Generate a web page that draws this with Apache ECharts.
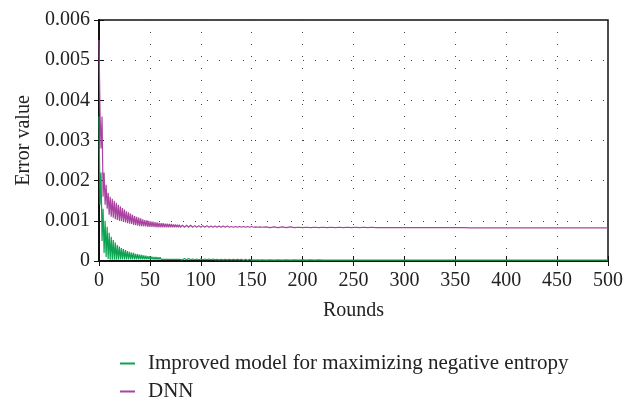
<!DOCTYPE html>
<html>
<head>
<meta charset="utf-8">
<script src="https://cdn.jsdelivr.net/npm/echarts@6/dist/echarts.min.js"></script>
<style>html,body{margin:0;padding:0;background:#fff}#c{width:634px;height:403px}</style>
</head>
<body>
<div id="c"></div>
<script>
const seriesNames = ['Improved model for maximizing negative entropy', 'DNN'];
const xTicks = [0, 50, 100, 150, 200, 250, 300, 350, 400, 450, 500];
const yTicks = [0, 0.001, 0.002, 0.003, 0.004, 0.005, 0.006];

const rounds = [
0,1,2,3,4,5,6,7,8,9,10,11,12,13,14,15,16,17,18,19,
20,21,22,23,24,25,26,27,28,29,30,31,32,33,34,35,36,37,38,39,
40,41,42,43,44,45,46,47,48,49,50,51,52,53,54,55,56,57,58,59,
60,61,62,63,64,65,66,67,68,69,70,71,72,73,74,75,76,77,78,79,80,
82,84,86,88,90,92,94,96,98,100,102,104,106,108,110,112,114,116,118,120,
122,124,126,128,130,132,134,136,138,140,142,144,146,148,150,152,154,156,158,160,
164,168,172,176,180,184,188,192,196,200,
204,208,212,216,220,224,228,232,236,240,
244,248,252,256,260,264,268,272,276,280,
284,288,292,296,300,304,308,312,316,320,
324,328,332,336,340,344,348,352,356,360,
364,368,372,376,380,384,388,392,396,400,
404,408,412,416,420,424,428,432,436,440,
444,448,452,456,460,464,468,472,476,480,
484,488,492,496,500
];

const improved = [
0.0036,0.0014,0.0022,0.0005,0.0013,0.0002,0.0010,0.0001,0.00085,0.00005,
0.0007,0.00003,0.0006,0.00003,0.00052,0.00003,0.00046,0.00003,0.0004,0.00003,
0.00036,0.00004,0.00032,0.00004,0.0003,0.00004,0.00027,0.00004,0.00025,0.00004,
0.00023,0.00004,0.00021,0.00004,0.0002,0.00004,0.00018,0.00004,0.00017,0.00004,
0.00016,0.00004,0.00015,0.00004,0.00014,0.00004,0.00013,0.00004,0.00012,0.00004,
0.00012,0.00004,0.00011,0.00004,0.0001,0.00004,0.0001,0.00004,0.00009,0.00004,
0.00009,0.00004,0.00008,0.00004,0.00008,0.00004,0.00008,0.00004,0.00007,0.00004,
0.00007,0.00004,0.00007,0.00004,0.00006,0.00004,0.00006,0.00004,0.00006,0.00004,0.00006,
0.00003,0.00006,0.00003,0.00006,0.00003,0.00005,0.00003,0.00005,0.00003,0.00005,
0.00003,0.00005,0.00003,0.00005,0.00003,0.00005,0.00003,0.00004,0.00003,0.00004,
0.00003,0.00004,0.00003,0.00004,0.00003,0.00004,0.00003,0.00004,0.00003,0.00004,
0.00002,0.00004,0.00002,0.00004,0.00002,0.00003,0.00002,0.00003,0.00002,0.00003,
0.00002,0.00003,0.00002,0.00003,0.00002,0.00003,0.00002,0.00003,0.00002,0.00003,
0.00002,0.00003,0.00002,0.00003,0.00002,0.00002,0.00002,0.00002,0.00002,0.00002,
0.00002,0.00002,0.00002,0.00002,0.00002,0.00002,0.00002,0.00002,0.00002,0.00002,
0.00002,0.00002,0.00002,0.00002,0.00002,0.00002,0.00002,0.00002,0.00002,0.00002,
0.00002,0.00002,0.00002,0.00002,0.00002,0.00002,0.00002,0.00002,0.00002,0.00002,
0.00002,0.00002,0.00002,0.00002,0.00002,0.00002,0.00002,0.00002,0.00002,0.00002,
0.00002,0.00002,0.00002,0.00002,0.00002,0.00002,0.00002,0.00002,0.00002,0.00002,
0.00002,0.00002,0.00002,0.00002,0.00002,0.00002,0.00002,0.00002,0.00002,0.00002,
0.00002,0.00002,0.00002,0.00002,0.00002
];

const dnn = [
0.0055,0.0037,0.0028,0.0036,0.0016,0.0022,0.0014,0.0019,0.0013,0.0017,
0.00115,0.0016,0.0011,0.00155,0.00108,0.0015,0.00104,0.00145,0.00102,0.0014,
0.001,0.00136,0.00099,0.00132,0.00098,0.00128,0.00096,0.00124,0.00094,0.00121,
0.00093,0.00118,0.00092,0.00115,0.0009,0.00112,0.00089,0.0011,0.00088,0.00108,
0.00087,0.00106,0.00087,0.00104,0.00086,0.00102,0.00086,0.00101,0.00085,0.001,
0.00085,0.00099,0.00085,0.00098,0.00084,0.00097,0.00084,0.00096,0.00084,0.00095,
0.00084,0.00094,0.00084,0.00094,0.00084,0.00093,0.00084,0.00093,0.00084,0.00092,
0.00084,0.00092,0.00084,0.00091,0.00084,0.00091,0.00084,0.0009,0.00084,0.0009,0.00084,
0.00089,0.00084,0.00089,0.00084,0.00089,0.00084,0.00088,0.00084,0.00088,0.00084,
0.00088,0.00084,0.00088,0.00084,0.00087,0.00084,0.00087,0.00084,0.00087,0.00084,
0.00087,0.00084,0.00087,0.00084,0.00086,0.00084,0.00086,0.00084,0.00086,0.00084,
0.00086,0.00084,0.00086,0.00084,0.00086,0.00084,0.00085,0.00084,0.00085,0.00084,
0.00085,0.00083,0.00085,0.00083,0.00085,0.00083,0.00085,0.00083,0.00084,0.00083,
0.00084,0.00083,0.00084,0.00083,0.00084,0.00083,0.00084,0.00083,0.00084,0.00083,
0.00084,0.00083,0.00084,0.00083,0.00084,0.00083,0.00084,0.00083,0.00083,0.00083,
0.00083,0.00083,0.00083,0.00083,0.00083,0.00083,0.00083,0.00083,0.00083,0.00083,
0.00083,0.00083,0.00083,0.00083,0.00083,0.00083,0.00083,0.00083,0.00083,0.00083,
0.000825,0.000825,0.000825,0.000825,0.000825,0.000825,0.000825,0.000825,0.000825,0.000825,
0.000825,0.000825,0.000825,0.000825,0.000825,0.000825,0.000825,0.000825,0.000825,0.000825,
0.000825,0.000825,0.000825,0.000825,0.000825,0.000825,0.000825,0.000825,0.000825,0.000825,
0.000825,0.000825,0.000825,0.000825,0.000825
];

const colors = ['#0ea352', '#a8449f'];
const FONT = '"Liberation Serif", "DejaVu Serif", serif';
const FS = 20;
const LFS = 21;

function pairs(xs, ys) { return xs.map((x, i) => [x, ys[i]]); }

const chart = echarts.init(document.getElementById('c'), null, { renderer: 'canvas' });
const gridLine = { show: true, lineStyle: { color: '#444', width: 1, type: [1, 11] } };
const xMin = xTicks[0], xMax = xTicks[xTicks.length - 1], xInt = xTicks[1] - xTicks[0];
const yMin = yTicks[0], yMax = yTicks[yTicks.length - 1], yInt = yTicks[1] - yTicks[0];

function legendFor(name, top) {
  return {
    orient: 'vertical', left: 115, top: top, padding: 5,
    itemWidth: 15, itemHeight: 2, icon: 'rect',
    textStyle: { fontFamily: FONT, fontSize: LFS, color: '#222', padding: [0, 0, 0, 8] },
    data: [name]
  };
}

chart.setOption({
  animation: false,
  backgroundColor: '#fff',
  grid: { left: 99, right: 26, top: 20, bottom: 142, show: true, borderColor: '#111', borderWidth: 1.5, containLabel: false },
  legend: [legendFor(seriesNames[0], 348), legendFor(seriesNames[1], 376)],
  xAxis: [{
    type: 'value', min: xMin, max: xMax, interval: xInt,
    name: 'Rounds', nameLocation: 'middle', nameGap: 40,
    nameTextStyle: { fontFamily: FONT, fontSize: FS, color: '#222' },
    axisLine: { show: true, lineStyle: { color: '#111', width: 2 } },
    axisTick: { show: true, inside: true, length: 5, lineStyle: { color: '#111' } },
    axisLabel: { fontFamily: FONT, fontSize: FS, color: '#222', margin: 10 },
    splitLine: gridLine
  }, {
    type: 'value', position: 'top', min: xMin, max: xMax, interval: xInt,
    axisLine: { show: true, lineStyle: { color: '#111', width: 1.5 } },
    axisTick: { show: true, inside: true, length: 5, lineStyle: { color: '#111' } },
    axisLabel: { show: false }, splitLine: { show: false }
  }],
  yAxis: [{
    type: 'value', min: yMin, max: yMax, interval: yInt,
    name: 'Error value', nameLocation: 'middle', nameGap: 64,
    nameTextStyle: { fontFamily: FONT, fontSize: FS, color: '#222' },
    axisLine: { show: true, lineStyle: { color: '#111', width: 2 } },
    axisTick: { show: true, inside: true, length: 5, lineStyle: { color: '#111' } },
    axisLabel: { fontFamily: FONT, fontSize: FS, color: '#222', margin: 9,
      formatter: v => v === 0 ? '0' : v.toFixed(3) },
    splitLine: gridLine
  }, {
    type: 'value', position: 'right', min: yMin, max: yMax, interval: yInt,
    axisLine: { show: true, lineStyle: { color: '#111', width: 1.5 } },
    axisTick: { show: true, inside: true, length: 5, lineStyle: { color: '#111' } },
    axisLabel: { show: false }, splitLine: { show: false }
  }],
  series: [{
    name: seriesNames[0], type: 'line', showSymbol: false, symbol: 'none',
    data: pairs(rounds, improved), color: colors[0],
    lineStyle: { width: 1.2, color: colors[0] }, z: 3
  }, {
    name: seriesNames[1], type: 'line', showSymbol: false, symbol: 'none',
    data: pairs(rounds, dnn), color: colors[1],
    lineStyle: { width: 1.2, color: colors[1] }, z: 2
  }]
});
</script>
</body>
</html>
